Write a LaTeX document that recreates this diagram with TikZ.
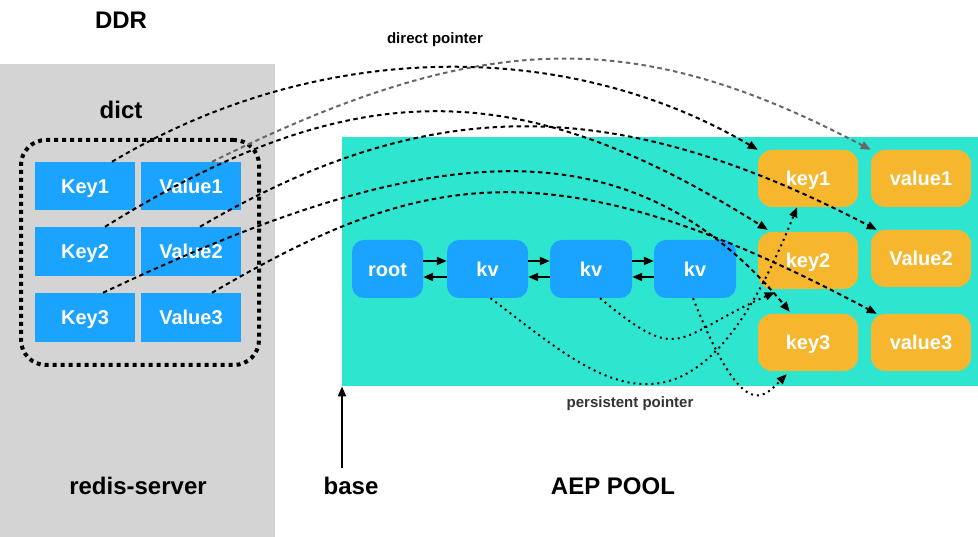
\documentclass[tikz,border=0pt]{standalone}
\usepackage{fontspec}
\setmainfont{Liberation Sans}
\usetikzlibrary{arrows.meta}
\definecolor{ddrgray}{HTML}{D4D4D4}
\definecolor{poolteal}{HTML}{2EE6D0}
\definecolor{cellblue}{HTML}{1AA3FF}
\definecolor{kvorange}{HTML}{F6B72E}
\definecolor{ptrgray}{HTML}{666666}
\definecolor{labeldark}{HTML}{333333}
\begin{document}
\begin{tikzpicture}[x=1pt,y=-1pt,
  bigtext/.style={font=\fontsize{24}{28}\selectfont\bfseries, inner sep=0pt, anchor=base},
  smalltext/.style={font=\fontsize{15}{18}\selectfont\bfseries, inner sep=0pt, anchor=base},
  boxfont/.style={text=white, inner sep=0pt, text height=15pt, text depth=0pt, font=\fontsize{20}{24}\selectfont\bfseries},
  cell/.style={boxfont, fill=cellblue, minimum width=100pt, minimum height=48pt},
  listbox/.style={boxfont, fill=cellblue, rounded corners=12pt, minimum height=58pt},
  pmembox/.style={boxfont, fill=kvorange, rounded corners=14pt, minimum width=100pt, minimum height=57pt},
  tip/.style={-{Triangle[length=10pt,width=8pt]}},
  dptr/.style={tip, line width=2pt, dash pattern=on 4.5pt off 3.5pt},
  pptr/.style={tip, line width=2pt, dash pattern=on 2pt off 4pt},
  link/.style={tip, line width=2pt}
]
\useasboundingbox (0,0) rectangle (978,537);
% backgrounds
\node[fill=ddrgray, minimum width=275pt, minimum height=473pt, inner sep=0pt, anchor=north west] (ddr) at (0,64) {};
\node[fill=poolteal, minimum width=636pt, minimum height=249pt, inner sep=0pt, anchor=north west] (pool) at (342,137) {};
\node[draw, line width=4pt, dash pattern=on 4pt off 4pt, rounded corners=25pt, minimum width=238pt, minimum height=225pt, inner sep=0pt, anchor=north west] (dictbox) at (19,138) {};
% labels
\node[bigtext] (ddrlabel) at (121,29) {DDR};
\node[bigtext] (dictlabel) at (121,119) {dict};
\node[bigtext] (serverlabel) at (138,494) {redis-server};
\node[bigtext] (baselabel) at (351,494) {base};
\node[bigtext] (poollabel) at (613,494) {AEP POOL};
\node[smalltext] (directlabel) at (435,44) {direct pointer};
\node[smalltext, text=labeldark] (persistlabel) at (630,408) {persistent pointer};
% dict cells
\node[cell] (Key1) at (85,186) {Key1};
\node[cell] (Value1) at (191,186) {Value1};
\node[cell, minimum height=49pt] (Key2) at (85,251.5) {Key2};
\node[cell, minimum height=49pt] (Value2) at (191,251.5) {Value2};
\node[cell, minimum height=49pt] (Key3) at (85,317.5) {Key3};
\node[cell, minimum height=49pt] (Value3) at (191,317.5) {Value3};
% list
\node[listbox, minimum width=71pt] (root) at (387.5,269) {root};
\node[listbox, minimum width=81pt] (kv1) at (487.5,269) {kv};
\node[listbox, minimum width=82pt] (kv2) at (591,269) {kv};
\node[listbox, minimum width=82pt] (kv3) at (695,269) {kv};
% pmem key/values
\node[pmembox] (key1) at (808,178.5) {key1};
\node[pmembox] (value1) at (921,178.5) {value1};
\node[pmembox] (key2) at (808,260.5) {key2};
\node[pmembox] (value2) at (921,258.5) {Value2};
\node[pmembox] (key3) at (808,342.5) {key3};
\node[pmembox] (value3) at (921,342.5) {value3};
% list links
\draw[link] ([yshift=8pt]root.east) -- ([yshift=8pt]kv1.west);
\draw[link] ([yshift=-8pt]kv1.west) -- ([yshift=-8pt]root.east);
\draw[link] ([yshift=8pt]kv1.east) -- ([yshift=8pt]kv2.west);
\draw[link] ([yshift=-8pt]kv2.west) -- ([yshift=-8pt]kv1.east);
\draw[link] ([yshift=8pt]kv2.east) -- ([yshift=8pt]kv3.west);
\draw[link] ([yshift=-8pt]kv3.west) -- ([yshift=-8pt]kv2.east);
% base arrow
\coordinate (basetail) at (342,468);
\draw[link] (basetail) -- (pool.south west);
% direct pointers
\draw[dptr] ([xshift=27pt]Key1.north) .. controls (320,38) and (568,38) .. (key1.north west);
\draw[dptr, ptrgray] ([xshift=21pt]Value1.north) .. controls (485,27) and (637,27) .. (value1.north west);
\draw[dptr] ([xshift=20pt]Key2.north) .. controls (353,73) and (519,73) .. ([xshift=10pt,yshift=2pt]key2.north west);
\draw[dptr] ([xshift=9pt]Value2.north) .. controls (428,93) and (614,93) .. ([xshift=6pt]value2.north west);
\draw[dptr] ([xshift=18pt]Key3.north) .. controls (407,149) and (621,109) .. ([xshift=32pt,yshift=2pt]key3.north west);
\draw[dptr] ([xshift=21pt]Value3.north) .. controls (419,172) and (551,140) .. ([xshift=6pt]value3.north west);
% persistent pointers
\draw[pptr] ([xshift=3pt]kv1.south) .. controls (597,378) and (690,475) .. ([xshift=-11pt]key1.south);
\draw[pptr] ([xshift=9pt]kv2.south) .. controls (682,366) and (673,338) .. ([xshift=17pt,yshift=-3pt]key2.south west);
\draw[pptr] ([xshift=-2pt]kv3.south) .. controls (743,424) and (763,398) .. ([xshift=29pt,yshift=-3pt]key3.south west);
\end{tikzpicture}
\end{document}
